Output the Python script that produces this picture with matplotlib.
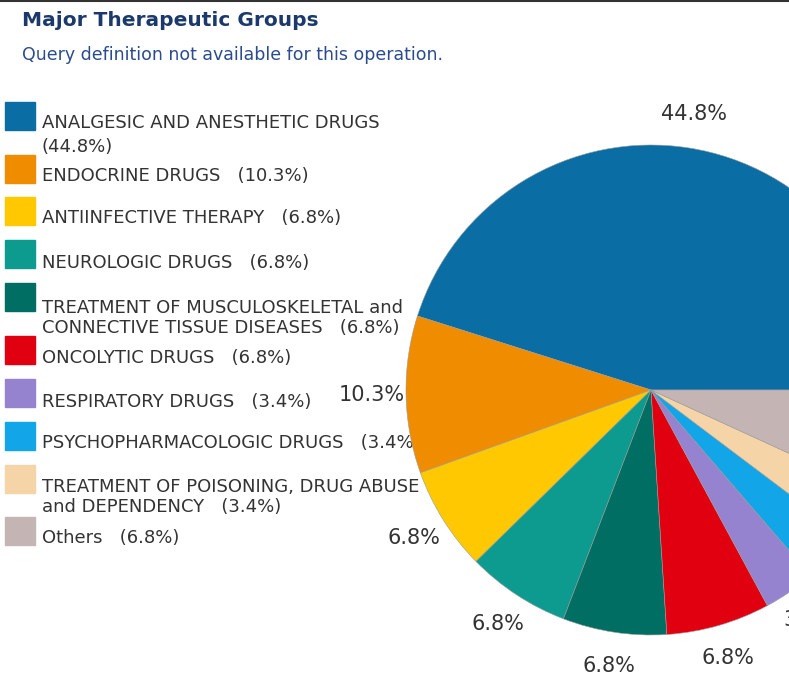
import matplotlib.pyplot as plt

# Major therapeutic groups, share of records (%)
groups = [
    "ANALGESIC AND ANESTHETIC DRUGS\n(44.8%)",
    "ENDOCRINE DRUGS   (10.3%)",
    "ANTIINFECTIVE THERAPY   (6.8%)",
    "NEUROLOGIC DRUGS   (6.8%)",
    "TREATMENT OF MUSCULOSKELETAL and\nCONNECTIVE TISSUE DISEASES   (6.8%)",
    "ONCOLYTIC DRUGS   (6.8%)",
    "RESPIRATORY DRUGS   (3.4%)",
    "PSYCHOPHARMACOLOGIC DRUGS   (3.4%)",
    "TREATMENT OF POISONING, DRUG ABUSE\nand DEPENDENCY   (3.4%)",
    "Others   (6.8%)",
]
shares = [44.8, 10.3, 6.8, 6.8, 6.8, 6.8, 3.4, 3.4, 3.4, 6.8]
pct_labels = ["44.8%", "10.3%", "6.8%", "6.8%", "6.8%", "6.8%",
              "3.4%", "3.4%", "3.4%", "6.8%"]
colors = ["#0A6EA5", "#F08C00", "#FFC800", "#0E9B8F", "#006E62",
          "#E00010", "#9683D0", "#12A5E8", "#F5D5A8", "#C4B4B4"]

W, H = 789, 693
fig = plt.figure(figsize=(W / 100, H / 100), dpi=100)
ax = fig.add_axes([0, 0, 1, 1])

# top border of the screenshot
ax.plot([0, W], [H - 1, H - 1], color='#333333', lw=1.5, zorder=1)

# titles
ax.text(22, H - 20, "Major Therapeutic Groups", fontsize=14.5, fontweight='bold',
        color='#1B3A6B', va='center', ha='left')
ax.text(22, H - 55, "Query definition not available for this operation.",
        fontsize=12.5, color='#2B4C8C', va='center', ha='left')

# legend (drawn under the pie, which overlaps it)
box_tops = [102, 155, 197, 240, 283, 336, 379, 422, 465, 517]
text_y = [135, 176, 218, 263, 318, 358, 402, 443, 497, 538]
for top, ty, c, g in zip(box_tops, text_y, colors, groups):
    ax.add_patch(plt.Rectangle((5, H - top - 28), 30, 28, color=c, zorder=1))
    ls = 1.45 if g.startswith("ANALGESIC") else 1.2
    ax.text(42, H - ty, g, fontsize=13, color='#333333', va='center',
            ha='left', linespacing=ls, zorder=1)

# pie, cut off by the right edge
wedges, texts = ax.pie(shares, colors=colors, labels=pct_labels,
                       startangle=0, counterclock=True,
                       center=(651, H - 390), radius=245,
                       labeldistance=1.14, frame=True,
                       wedgeprops=dict(linewidth=0.4, edgecolor='#9a9a9a'),
                       textprops=dict(fontsize=15, color='#333333'))
for w in wedges:
    w.set_zorder(3)
for t in texts:
    t.set_zorder(2)
    t.set_ha('center')
    t.set_va('center')
ax.set_xlim(0, W)
ax.set_ylim(0, H)
ax.axis('off')

fig.savefig("out.png", dpi=100)
